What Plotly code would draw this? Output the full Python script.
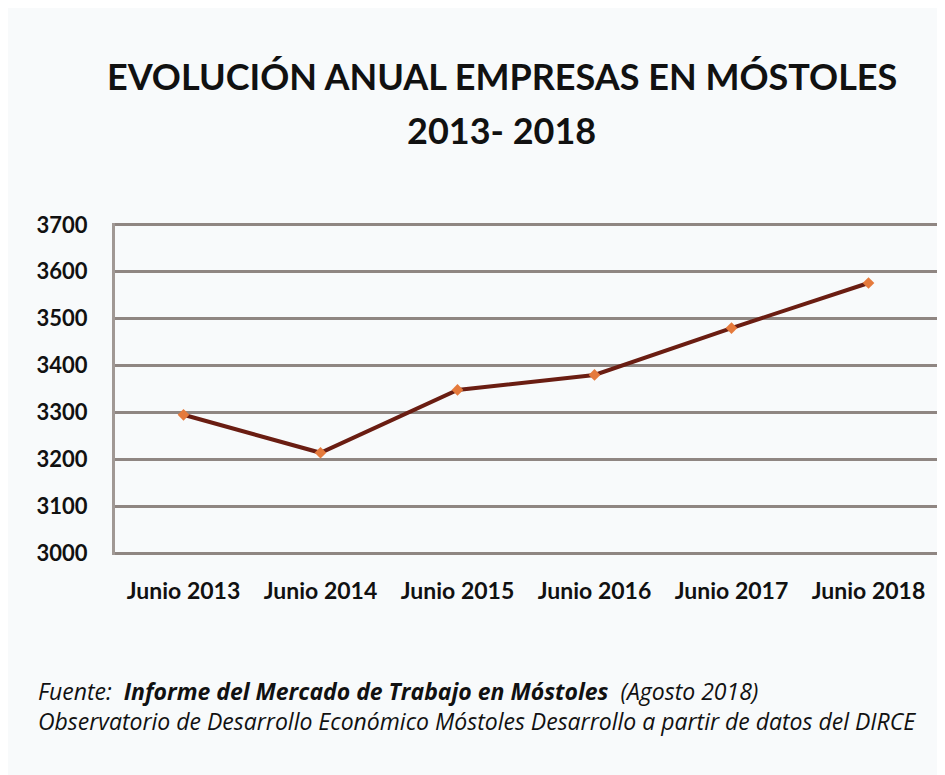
import plotly.graph_objects as go

years = ["Junio 2013", "Junio 2014", "Junio 2015", "Junio 2016", "Junio 2017", "Junio 2018"]
empresas = [3295, 3214, 3348, 3380, 3480, 3576]
y_ticks = [3000, 3100, 3200, 3300, 3400, 3500, 3600, 3700]

bg = "#f8fafb"
font_family = "Lato, 'Open Sans', sans-serif"
foot_family = "'Open Sans', Lato, sans-serif"

fig = go.Figure()
fig.add_trace(go.Scatter(
    x=years, y=empresas,
    mode="lines+markers",
    line=dict(color="#6a1d12", width=4),
    marker=dict(symbol="diamond", size=9, color="#e57a3c"),
    showlegend=False,
))

fig.update_layout(
    width=945, height=775,
    paper_bgcolor=bg, plot_bgcolor=bg,
    margin=dict(l=107, r=16, t=215, b=228),
    font=dict(family=font_family, color="#111111"),
    xaxis=dict(
        range=[-0.5, 5.5],
        showgrid=False, showline=False, zeroline=False,
        ticks="", tickfont=dict(size=23, family=font_family),
        tickvals=years, ticktext=["<b>%s</b>" % y for y in years],
        ticklabelstandoff=20,
    ),
    yaxis=dict(
        range=[2996, 3704], tickvals=y_ticks,
        ticktext=["<b>%d</b>" % v for v in y_ticks],
        showgrid=True, gridcolor="#8f8682", gridwidth=3,
        showline=True, linecolor="#a09894", linewidth=3,
        zeroline=False, ticks="",
        tickfont=dict(size=22, family=font_family),
        ticklabelstandoff=20,
    ),
)

# title as two lines
fig.add_annotation(
    text="<b>EVOLUCIÓN ANUAL EMPRESAS EN MÓSTOLES</b>",
    xref="paper", yref="paper", x=0.4708, y=1.443,
    xanchor="center", yanchor="middle", showarrow=False,
    font=dict(size=36, family=font_family, color="#111111"),
)
fig.add_annotation(
    text="<b>2013- 2018</b>",
    xref="paper", yref="paper", x=0.4708, y=1.280,
    xanchor="center", yanchor="middle", showarrow=False,
    font=dict(size=36, family=font_family, color="#111111"),
)

# source note
fig.add_annotation(
    text="<i>Fuente:  <b>Informe del Mercado de Trabajo en Móstoles</b>  (Agosto 2018)</i><br>"
         "<i>Observatorio de Desarrollo Económico Móstoles Desarrollo a partir de datos del DIRCE</i>",
    xref="paper", yref="paper", x=-0.0961, y=-0.4548, xanchor="left", yanchor="middle",
    align="left", showarrow=False,
    font=dict(size=23, family=foot_family, color="#111111"),
)

fig.write_html("out.html")
